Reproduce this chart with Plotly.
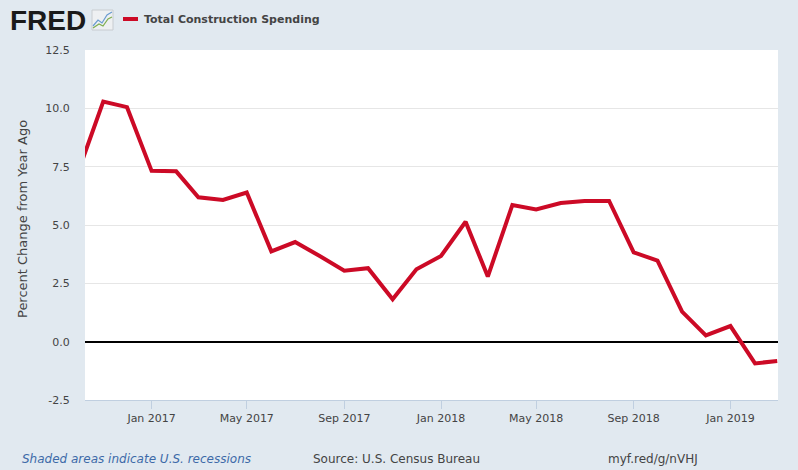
import plotly.graph_objects as go

months = ["2016-10-01", "2016-11-01", "2016-12-01",
          "2017-01-01", "2017-02-01", "2017-03-01", "2017-04-01", "2017-05-01", "2017-06-01",
          "2017-07-01", "2017-08-01", "2017-09-01", "2017-10-01", "2017-11-01", "2017-12-01",
          "2018-01-01", "2018-02-01", "2018-03-01", "2018-04-01", "2018-05-01", "2018-06-01",
          "2018-07-01", "2018-08-01", "2018-09-01", "2018-10-01", "2018-11-01", "2018-12-01",
          "2019-01-01", "2019-02-01", "2019-03-01"]
values = [7.33, 10.29, 10.05,
          7.32, 7.30, 6.19, 6.07, 6.39, 3.87,
          4.27, 3.67, 3.04, 3.15, 1.82, 3.10,
          3.67, 5.14, 2.79, 5.86, 5.67, 5.94,
          6.03, 6.03, 3.83, 3.47, 1.29, 0.27,
          0.67, -0.93, -0.83]
series_name = "Total Construction Spending"
y_title = "Percent Change from Year Ago"
y_ticks = [-2.5, 0.0, 2.5, 5.0, 7.5, 10.0, 12.5]
y_labels = ["-2.5", "0.0", "2.5", "5.0", "7.5", "10.0", "12.5"]
x_ticks = ["2017-01-01", "2017-05-01", "2017-09-01", "2018-01-01", "2018-05-01", "2018-09-01", "2019-01-01"]
x_labels = ["Jan 2017", "May 2017", "Sep 2017", "Jan 2018", "May 2018", "Sep 2018", "Jan 2019"]

BG = "#e1e9f0"
RED = "#cc0a26"
TXT = "#444444"
FONT = "DejaVu Sans"

fig = go.Figure()
fig.add_trace(go.Scatter(x=months, y=values, mode="lines",
                         line=dict(color=RED, width=4), name=series_name,
                         showlegend=False))

fig.update_layout(
    width=798, height=470,
    margin=dict(l=85, r=20, t=50, b=70),
    paper_bgcolor=BG, plot_bgcolor="white",
    font=dict(family=FONT, size=11, color=TXT),
    xaxis=dict(range=["2016-10-09", "2019-03-02"], tickvals=x_ticks, ticktext=x_labels,
               showgrid=False, ticks="outside", ticklen=8, tickcolor="#c0cfe0",
               showline=True, linecolor="#c0cfe0", linewidth=1,
               tickfont=dict(size=11, color=TXT), zeroline=False, fixedrange=True),
    yaxis=dict(range=[-2.5, 12.5], tickvals=y_ticks, ticktext=y_labels,
               showgrid=True, gridcolor="#e6e6e6", gridwidth=1,
               zeroline=True, zerolinecolor="black", zerolinewidth=2,
               ticks="outside", ticklen=12, tickcolor="rgba(0,0,0,0)",
               tickfont=dict(size=11, color=TXT), fixedrange=True),
)

px = lambda v: (v - 85) / 693
py = lambda v: (400 - v) / 350

# y-axis title
fig.add_annotation(xref="paper", yref="paper", x=px(22), y=py(219), xanchor="center", yanchor="middle",
                   text=y_title, textangle=-90, showarrow=False,
                   font=dict(family=FONT, size=13, color=TXT))
# FRED logo text
fig.add_annotation(xref="paper", yref="paper", x=px(8), y=py(21), xanchor="left", yanchor="middle",
                   text="<b>FRED</b>", showarrow=False,
                   font=dict(family="Liberation Sans", size=28, color="#1a1a1a"))
# small logo icon
fig.add_shape(type="rect", xref="paper", yref="paper", x0=px(92), x1=px(113), y0=py(30), y1=py(10),
              fillcolor="#eef0f2", line=dict(color="#c8ccd0", width=1))
fig.add_shape(type="path", xref="paper", yref="paper",
              path=f"M {px(93)} {py(26)} L {px(98)} {py(20)} L {px(102)} {py(23)} L {px(107)} {py(15)} L {px(112)} {py(12)}",
              line=dict(color="#6a9bd0", width=1.2))
fig.add_shape(type="path", xref="paper", yref="paper",
              path=f"M {px(93)} {py(28)} L {px(99)} {py(24)} L {px(103)} {py(26)} L {px(108)} {py(19)} L {px(112)} {py(17)}",
              line=dict(color="#7fae4f", width=1.2))
# legend
fig.add_shape(type="line", xref="paper", yref="paper", x0=px(123), x1=px(138), y0=py(19), y1=py(19),
              line=dict(color=RED, width=4))
fig.add_annotation(xref="paper", yref="paper", x=px(142), y=py(19), xanchor="left", yanchor="middle",
                   text="<b>" + series_name + "</b>", showarrow=False,
                   font=dict(family=FONT, size=11, color=TXT))
# footer
fig.add_annotation(xref="paper", yref="paper", x=px(20), y=py(459), xanchor="left", yanchor="middle",
                   text="<i>Shaded areas indicate U.S. recessions</i>", showarrow=False,
                   font=dict(family=FONT, size=12, color="#3d6aa8"))
fig.add_annotation(xref="paper", yref="paper", x=px(311), y=py(459), xanchor="left", yanchor="middle",
                   text="Source: U.S. Census Bureau", showarrow=False,
                   font=dict(family=FONT, size=12, color=TXT))
fig.add_annotation(xref="paper", yref="paper", x=px(606), y=py(459), xanchor="left", yanchor="middle",
                   text="myf.red/g/nVHJ", showarrow=False,
                   font=dict(family=FONT, size=12, color=TXT))

fig.write_html("out.html", config={"displayModeBar": False},
               post_script="document.body.style.margin='0';")
